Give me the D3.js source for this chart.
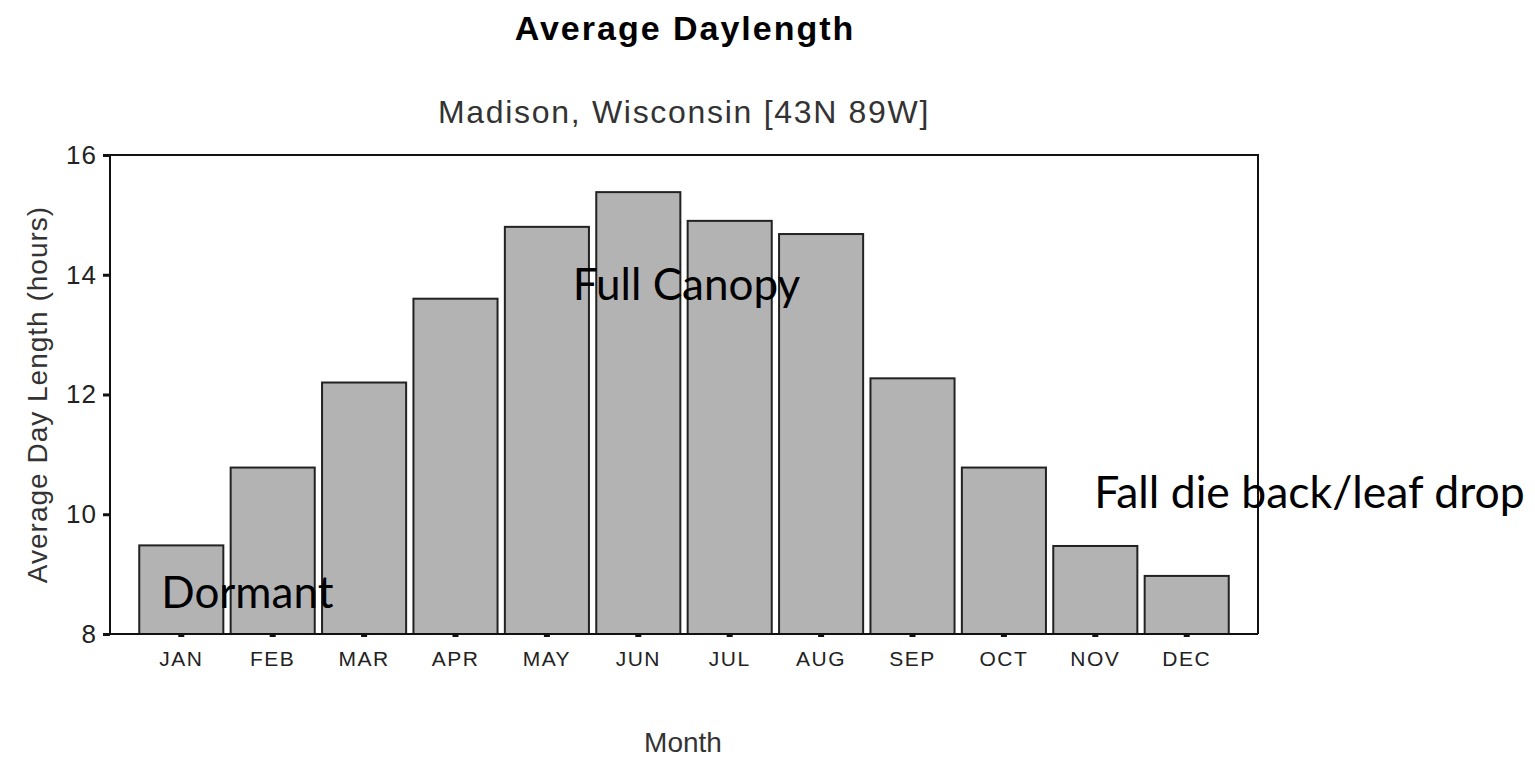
<!DOCTYPE html>
<meta charset="utf-8">
<style>

body {
  margin: 0;
  background: #fff;
}

text {
  font-family: "Liberation Sans", Arial, sans-serif;
}

.axis path {
  display: none;
}

.axis text {
  fill: #222;
}

.bar {
  fill: #b3b3b3;
  stroke: #222;
  stroke-width: 2;
}

.note {
  font-family: Lato, "Open Sans", sans-serif;
  fill: #000;
}

</style>
<svg width="1535" height="759"></svg>
<script src="https://d3js.org/d3.v7.min.js"></script>
<script>

var months = ["JAN", "FEB", "MAR", "APR", "MAY", "JUN", "JUL", "AUG", "SEP", "OCT", "NOV", "DEC"],
    daylength = [9.48, 10.78, 12.2, 13.6, 14.8, 15.38, 14.9, 14.68, 12.27, 10.78, 9.47, 8.97],
    yTicks = [8, 10, 12, 14, 16];

var notes = ["Dormant", "Full Canopy", "Fall die back/leaf drop"];

var svg = d3.select("svg"),
    margin = {top: 155, right: 277, bottom: 125, left: 110},
    width = +svg.attr("width") - margin.left - margin.right,
    height = +svg.attr("height") - margin.top - margin.bottom;

var x = d3.scaleBand()
    .domain(months)
    .range([0, width])
    .paddingInner(0.08)
    .paddingOuter(0.32);

var y = d3.scaleLinear()
    .domain([8, 16])
    .range([height, 0]);

var g = svg.append("g")
    .attr("transform", "translate(" + margin.left + "," + margin.top + ")");

// frame: top and right edges
g.append("path")
    .attr("d", "M0,0H" + width + "V" + height)
    .attr("fill", "none")
    .attr("stroke", "#111")
    .attr("stroke-width", 2);

g.selectAll(".bar")
  .data(daylength)
  .enter().append("rect")
    .attr("class", "bar")
    .attr("x", function(d, i) { return x(months[i]); })
    .attr("y", function(d) { return y(d); })
    .attr("width", x.bandwidth())
    .attr("height", function(d) { return height - y(d); });

var yAxis = d3.axisLeft(y)
    .tickValues(yTicks)
    .tickSize(7)
    .tickPadding(6);

var gY = g.append("g")
    .attr("class", "axis axis--y")
    .call(yAxis);

gY.selectAll("line")
    .attr("stroke", "#111")
    .attr("stroke-width", 3);

gY.selectAll("text")
    .style("font-size", "26px")
    .style("letter-spacing", "1px");

var xAxis = d3.axisBottom(x)
    .tickSize(3)
    .tickPadding(14);

var gX = g.append("g")
    .attr("class", "axis axis--x")
    .attr("transform", "translate(0," + height + ")")
    .call(xAxis);

gX.selectAll("line")
    .attr("stroke", "#111")
    .attr("stroke-width", 6)
    .attr("y1", 1);

gX.selectAll("text")
    .style("font-size", "21px")
    .style("letter-spacing", "1.5px");

// left and bottom axis lines
g.append("path")
    .attr("d", "M0,0V" + height + "H" + width)
    .attr("fill", "none")
    .attr("stroke", "#111")
    .attr("stroke-width", 2);

svg.append("text")
    .attr("x", margin.left + width / 2 + 1)
    .attr("y", 40)
    .attr("text-anchor", "middle")
    .style("font-size", "34px")
    .style("letter-spacing", "2px")
    .style("font-weight", "bold")
    .text("Average Daylength");

svg.append("text")
    .attr("x", margin.left + width / 2)
    .attr("y", 123)
    .attr("text-anchor", "middle")
    .attr("fill", "#333")
    .style("font-size", "32px")
    .style("letter-spacing", "1.7px")
    .text("Madison, Wisconsin [43N 89W]");

svg.append("text")
    .attr("transform", "translate(47," + (margin.top + height / 2) + ")rotate(-90)")
    .attr("text-anchor", "middle")
    .attr("fill", "#333")
    .style("font-size", "28px")
    .style("letter-spacing", "1px")
    .text("Average Day Length (hours)");

svg.append("text")
    .attr("x", margin.left + width / 2 - 1)
    .attr("y", 752)
    .attr("text-anchor", "middle")
    .attr("fill", "#333")
    .style("font-size", "28px")
    .text("Month");

// annotations placed at month / value positions
var notePos = [
  {m: "JAN", v: 8.43, dx: 22, size: 44},
  {m: "MAY", v: 13.58, dx: 68, size: 44},
  {m: "NOV", v: 10.1, dx: 41, size: 44.5}
];

g.selectAll(".note")
  .data(notes)
  .enter().append("text")
    .attr("class", "note")
    .attr("x", function(d, i) { return x(notePos[i].m) + notePos[i].dx; })
    .attr("y", function(d, i) { return y(notePos[i].v); })
    .style("font-size", function(d, i) { return notePos[i].size + "px"; })
    .text(function(d) { return d; });

</script>
